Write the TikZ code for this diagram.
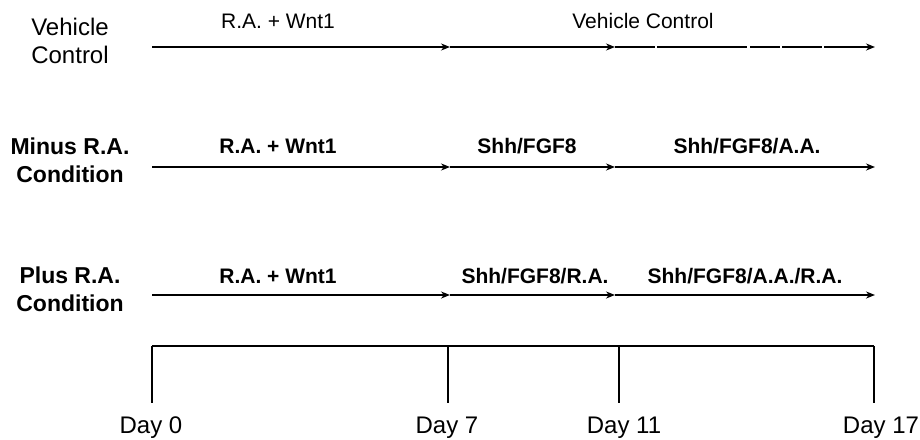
\documentclass[tikz,border=0pt]{standalone}
\usepackage{fontspec}
\setmainfont{Liberation Sans}
\usetikzlibrary{arrows.meta}

\tikzset{
  stage/.style={line width=1.5pt,-{Stealth[length=9pt,width=7pt]}},
  bar/.style={line width=1.4pt},
  rowlabel/.style={align=center,font=\fontsize{24}{28}\selectfont},
  druglabel/.style={anchor=base,font=\fontsize{21}{24}\selectfont},
  daylabel/.style={anchor=base,font=\fontsize{24}{28}\selectfont},
}

\begin{document}
\begin{tikzpicture}[x=1pt,y=-1pt]
  \useasboundingbox (0,0) rectangle (920,439);

  % row labels
  \node[rowlabel] (vehicle) at (70,41) {Vehicle\\Control};
  \node[rowlabel,font=\fontsize{23}{28}\selectfont\bfseries] (minus) at (70,160) {Minus R.A.\\Condition};
  \node[rowlabel,font=\fontsize{23}{28}\selectfont\bfseries] (plus) at (70,289) {Plus R.A.\\Condition};

  % stage end points
  \foreach \r/\y in {1/47,2/167,3/295} {
    \coordinate (s\r a) at (152,\y);
    \coordinate (s\r b) at (450,\y);
    \coordinate (s\r c) at (615,\y);
    \coordinate (s\r d) at (875,\y);
  }

  % vehicle control
  \draw[stage] (s1a) -- (s1b);
  \draw[stage] (s1b) -- (s1c);
  \draw[stage,dash pattern=on 40pt off 2pt on 90pt off 3pt on 30pt off 2pt] (s1c) -- (s1d);
  \node[druglabel] (ra1) at (278,28) {R.A. + Wnt1};
  \node[druglabel] (vc1) at (643,28) {Vehicle Control};

  % minus R.A.
  \draw[stage] (s2a) -- (s2b);
  \draw[stage] (s2b) -- (s2c);
  \draw[stage] (s2c) -- (s2d);
  \node[druglabel,font=\fontsize{21}{24}\selectfont\bfseries] (ra2) at (278,153) {R.A. + Wnt1};
  \node[druglabel,font=\fontsize{21}{24}\selectfont\bfseries] (sf2) at (527,153) {Shh/FGF8};
  \node[druglabel,font=\fontsize{21}{24}\selectfont\bfseries] (sfa2) at (747,153) {Shh/FGF8/A.A.};

  % plus R.A.
  \draw[stage] (s3a) -- (s3b);
  \draw[stage] (s3b) -- (s3c);
  \draw[stage] (s3c) -- (s3d);
  \node[druglabel,font=\fontsize{21}{24}\selectfont\bfseries] (ra3) at (278,283) {R.A. + Wnt1};
  \node[druglabel,font=\fontsize{21}{24}\selectfont\bfseries] (sf3) at (535,283) {Shh/FGF8/R.A.};
  \node[druglabel,font=\fontsize{21}{24}\selectfont\bfseries] (sfa3) at (745,283) {Shh/FGF8/A.A./R.A.};

  % time line
  \foreach \d/\x/\lx in {0/152/151,7/448/447,11/619/624,17/874/881} {
    \coordinate (top\d) at (\x,346);
    \coordinate (bot\d) at (\x,403);
    \node[daylabel] (day\d) at (\lx,433) {Day \d};
    \draw[bar] (top\d) -- (bot\d);
  }
  \draw[bar] (top0) -- (top17);
\end{tikzpicture}
\end{document}
